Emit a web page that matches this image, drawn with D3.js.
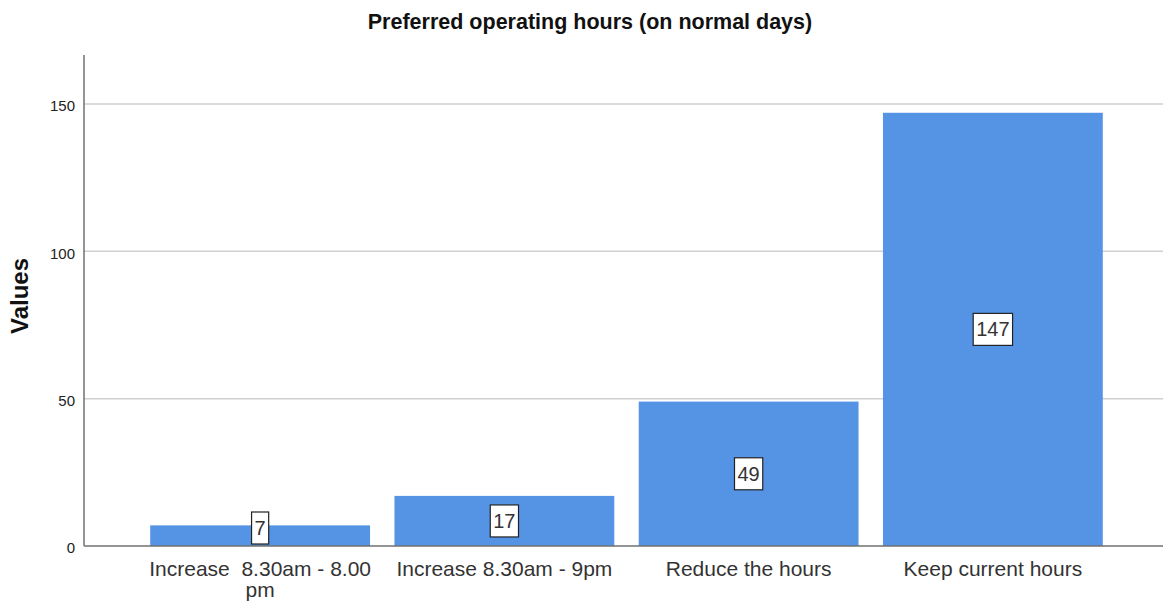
<!DOCTYPE html>
<html>
  <head>
    <meta charset="utf-8">
    <script src="https://unpkg.com/d3@7/dist/d3.min.js"></script>
    <style>
      body {
        margin: 0;
        background: #fff;
        font-family: "Liberation Sans", Arial, sans-serif;
      }

      text {
        white-space: pre;
      }

      .grid line {
        stroke: #d0d0d0;
        stroke-width: 1.5px;
      }

      .bar {
        fill: #5594e4;
      }

      .value-box {
        fill: #fff;
        stroke: #222;
        stroke-width: 1.2px;
      }
    </style>
  </head>
  <body>
    <script>
      const categories = [
        ['Increase  8.30am - 8.00', 'pm'],
        ['Increase 8.30am - 9pm'],
        ['Reduce the hours'],
        ['Keep current hours']
      ];
      const values = [7, 17, 49, 147];
      const yTicks = [0, 50, 100, 150];

      const width = 1163;
      const height = 601;
      const plotLeft = 84;
      const plotRight = 1163;
      const plotTop = 55;
      const plotBottom = 546;

      const svg = d3.select('body')
        .append('svg')
        .attr('width', width)
        .attr('height', height);

      const x = d3.scaleBand()
        .domain(d3.range(values.length))
        .range([138, 1115])
        .paddingInner(0.1)
        .paddingOuter(0.05);

      const y = d3.scaleLinear()
        .domain([0, 166.6])
        .range([plotBottom, plotTop]);

      svg.append('text')
        .attr('x', 590)
        .attr('y', 29)
        .attr('text-anchor', 'middle')
        .style('font-weight', 'bold')
        .style('font-size', '21.5px')
        .style('fill', '#111')
        .text('Preferred operating hours (on normal days)');

      // gridlines
      svg.append('g')
        .classed('grid', true)
        .selectAll('line')
        .data(yTicks.filter(d => d > 0))
        .enter()
        .append('line')
        .attr('x1', plotLeft)
        .attr('x2', plotRight)
        .attr('y1', d => y(d))
        .attr('y2', d => y(d));

      svg.selectAll('.bar')
        .data(values)
        .enter()
        .append('rect')
        .classed('bar', true)
        .attr('x', (d, i) => x(i))
        .attr('y', d => y(d))
        .attr('width', x.bandwidth())
        .attr('height', d => plotBottom - y(d));

      // y axis
      const yAxis = svg.append('g')
        .attr('transform', `translate(${plotLeft},2)`)
        .call(d3.axisLeft(y).tickValues(yTicks).tickSize(0).tickPadding(9));
      yAxis.select('.domain').remove();
      yAxis.selectAll('text')
        .style('font-family', '"Liberation Sans", Arial, sans-serif')
        .style('font-size', '15px')
        .style('fill', '#222');

      svg.append('line')
        .attr('x1', plotLeft)
        .attr('x2', plotLeft)
        .attr('y1', plotTop)
        .attr('y2', plotBottom)
        .style('stroke', '#707070')
        .style('stroke-width', 1.5);

      svg.append('line')
        .attr('x1', plotLeft)
        .attr('x2', plotRight)
        .attr('y1', plotBottom)
        .attr('y2', plotBottom)
        .style('stroke', '#707070')
        .style('stroke-width', 1.5);

      svg.append('text')
        .attr('transform', `translate(28,296) rotate(-90)`)
        .attr('text-anchor', 'middle')
        .style('font-weight', 'bold')
        .style('font-size', '24px')
        .style('fill', '#111')
        .text('Values');

      // category labels
      const catLabels = svg.selectAll('.cat')
        .data(categories)
        .enter()
        .append('text')
        .classed('cat', true)
        .attr('x', (d, i) => x(i) + x.bandwidth() / 2)
        .attr('y', 576)
        .attr('text-anchor', 'middle')
        .style('font-size', '21px')
        .style('fill', '#333');
      catLabels.selectAll('tspan')
        .data(d => d)
        .enter()
        .append('tspan')
        .attr('x', function() { return d3.select(this.parentNode).attr('x'); })
        .attr('dy', (d, i) => i === 0 ? 0 : 21)
        .text(d => d);

      // value boxes
      const labels = svg.selectAll('.value')
        .data(values)
        .enter()
        .append('g')
        .classed('value', true);

      labels.each(function(d, i) {
        const g = d3.select(this);
        const cx = x(i) + x.bandwidth() / 2;
        const boxH = 32;
        let cy = (y(d) + plotBottom) / 2;
        cy = Math.min(cy, plotBottom - 2 - boxH / 2);
        const txt = g.append('text')
          .attr('x', cx)
          .attr('y', cy + 7)
          .attr('text-anchor', 'middle')
          .style('font-size', '20px')
          .style('fill', '#333')
          .text(d);
        const w = txt.node().getComputedTextLength() + 6;
        g.insert('rect', 'text')
          .classed('value-box', true)
          .attr('x', cx - w / 2)
          .attr('y', cy - boxH / 2)
          .attr('width', w)
          .attr('height', boxH);
      });
    </script>
  </body>
</html>
